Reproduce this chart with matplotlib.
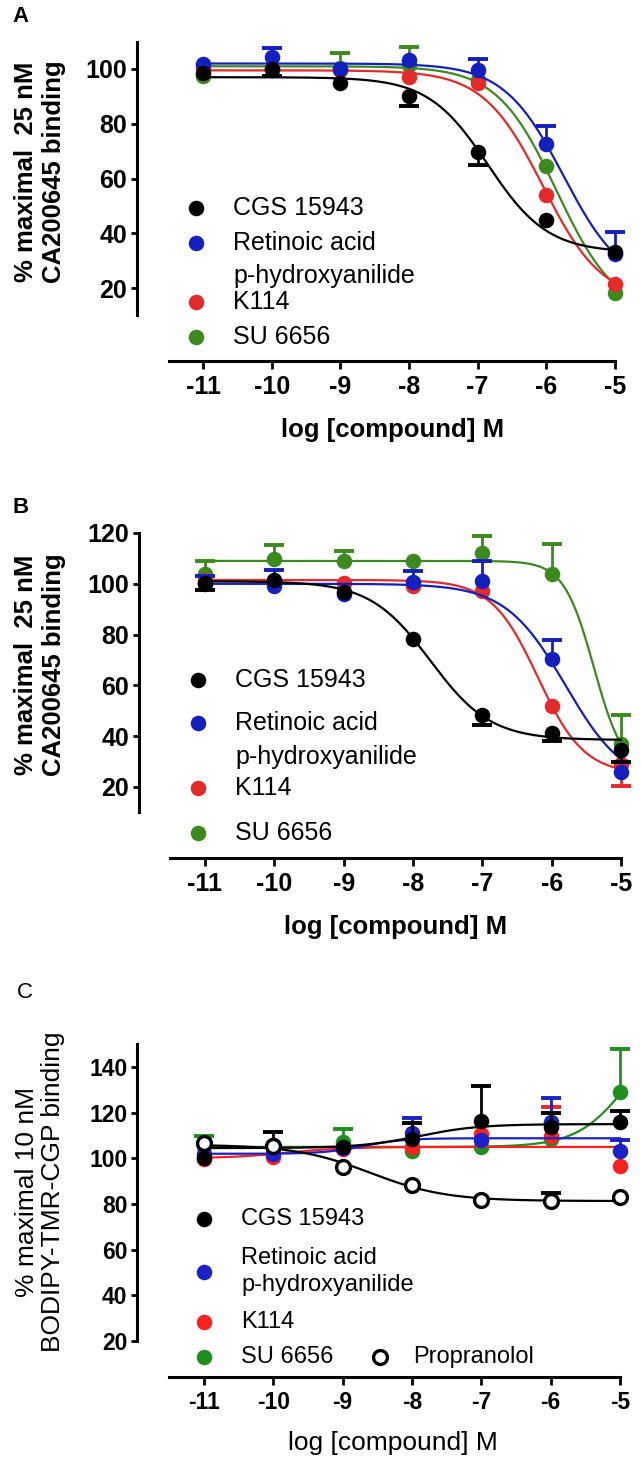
import numpy as np
import matplotlib
matplotlib.use('Agg')
import matplotlib.pyplot as plt
from matplotlib.lines import Line2D

plt.rcParams['font.family'] = ['Liberation Sans', 'DejaVu Sans']

W, H, DPI = 641, 1465, 100

# ---------------- data ----------------
log_conc = [-11, -10, -9, -8, -7, -6, -5]

# Panel A
a_cgs = [98.5, 100.0, 95.0, 90.3, 69.7, 44.8, 33.2]
a_cgs_up = [0, 0, 0, 0, 0, 0, 0]
a_cgs_dn = [0, 2.5, 0, 3.7, 4.7, 0, 0]
a_ret = [102.0, 104.2, 100.0, 103.3, 99.5, 72.6, 32.4]
a_ret_up = [0, 3.6, 0, 0, 4.3, 6.4, 8.1]
a_ret_dn = [0, 0, 0, 0, 0, 0, 0]
a_k114 = [100.5, 100.0, 99.5, 97.2, 94.8, 53.9, 21.5]
a_k114_up = [0, 0, 0, 0, 0, 0, 0]
a_k114_dn = [0, 0, 0, 0, 0, 0, 0]
a_su = [97.5, 99.5, 100.5, 101.5, 96.0, 64.5, 18.3]
a_su_up = [0, 0, 5.2, 6.5, 0, 0, 0]
a_su_dn = [0, 0, 0, 0, 0, 0, 0]
# fit parameters: [level at low conc, level at high conc, log midpoint, slope]
a_cgs_fit = [97.0, 33.0, -6.85, 1.0]
a_ret_fit = [102.0, 20.0, -5.75, 1.0]
a_k114_fit = [99.5, 15.0, -6.05, 1.0]
a_su_fit = [101.0, 10.0, -5.85, 1.0]

# Panel B
b_cgs = [100.5, 101.5, 96.6, 78.3, 48.4, 41.2, 34.6]
b_cgs_up = [0, 0, 0, 0, 0, 0, 0]
b_cgs_dn = [3.0, 0, 0, 0, 3.9, 3.2, 4.6]
b_ret = [100.0, 99.0, 96.0, 100.8, 101.0, 70.5, 26.0]
b_ret_up = [3.0, 6.5, 0, 4.3, 8.0, 7.5, 0]
b_ret_dn = [0, 0, 0, 0, 0, 0, 0]
b_k114 = [101.5, 101.0, 100.5, 99.0, 97.0, 51.9, 29.0]
b_k114_up = [0, 0, 0, 0, 0, 0, 0]
b_k114_dn = [0, 0, 0, 0, 0, 0, 8.5]
b_su = [104.0, 109.8, 109.0, 109.0, 112.0, 104.0, 37.0]
b_su_up = [5.0, 5.5, 4.0, 0, 7.0, 11.7, 11.4]
b_su_dn = [0, 0, 0, 0, 0, 0, 0]
b_cgs_fit = [101.0, 38.5, -7.75, 1.0]
b_ret_fit = [100.0, 20.0, -5.8, 1.0]
b_k114_fit = [101.5, 25.0, -6.2, 1.3]
b_su_fit = [109.0, 25.0, -5.39, 2.0]

# Panel C
c_cgs = [100.3, 106.0, 104.8, 108.6, 116.3, 113.7, 115.8]
c_cgs_up = [0, 5.4, 0, 6.7, 15.2, 6.3, 4.9]
c_cgs_dn = [0, 0, 0, 0, 0, 0, 0]
c_ret = [101.8, 101.8, 104.5, 111.3, 107.9, 115.8, 103.2]
c_ret_up = [0, 0, 0, 6.2, 0, 10.5, 4.8]
c_ret_dn = [0, 0, 0, 0, 0, 0, 0]
c_k114 = [99.6, 100.4, 104.0, 104.8, 110.5, 109.8, 96.5]
c_k114_up = [0, 0, 0, 0, 0, 12.5, 0]
c_k114_dn = [0, 0, 0, 0, 0, 0, 0]
c_su = [105.5, 105.0, 107.0, 103.2, 104.8, 108.3, 128.9]
c_su_up = [4.5, 0, 5.7, 0, 0, 0, 18.8]
c_su_dn = [0, 0, 0, 0, 0, 0, 0]
c_prop = [106.6, 105.4, 96.0, 88.2, 81.9, 81.3, 82.9]
c_prop_up = [0, 0, 0, 0, 0, 3.5, 0]
c_prop_dn = [0, 0, 0, 0, 0, 0, 0]
c_cgs_fit = [104.5, 115.0, -7.9, 1.0]
c_ret_fit = [102.0, 108.8, -8.7, 1.5]
c_k114_fit = [100.0, 105.0, -9.8, 1.0]
c_su_fit = [105.0, 160.0, -4.88, 1.18]
c_prop_fit = [106.0, 81.3, -8.6, 0.8]

x_ticks = [-11, -10, -9, -8, -7, -6, -5]

# ---------------- helpers ----------------
def fx(px):
    return px / W

def fy(py):
    return 1 - py / H

def curve(params, x):
    y_low, y_high, mid, slope = params
    return y_low + (y_high - y_low) / (1 + 10 ** (slope * (mid - x)))

fig = plt.figure(figsize=(W / DPI, H / DPI), dpi=DPI)

def make_axes(l, r, t, b):
    return fig.add_axes([fx(l), fy(b), fx(r) - fx(l), (b - t) / H])

def style_axes(ax, ylim, yticks, left_out, bottom_out, tick_size, tick_weight):
    ax.set_xlim(-11.5, -5)
    ax.set_ylim(*ylim)
    ax.set_xticks(x_ticks)
    ax.set_xticklabels([str(v) for v in x_ticks])
    ax.set_yticks(yticks)
    for s in ['top', 'right']:
        ax.spines[s].set_visible(False)
    ax.spines['left'].set_position(('outward', left_out * 72 / DPI))
    ax.spines['bottom'].set_position(('outward', bottom_out * 72 / DPI))
    for s in ['left', 'bottom']:
        ax.spines[s].set_linewidth(2.2)
    ax.tick_params(axis='y', direction='out', length=4.5, width=2.0, pad=2.5,
                   labelsize=tick_size)
    ax.tick_params(axis='x', direction='out', length=6, width=2.0, pad=4,
                   labelsize=tick_size)
    for lab in ax.get_xticklabels() + ax.get_yticklabels():
        lab.set_fontweight(tick_weight)
    ax.patch.set_visible(False)

def one_sided_err(ax, y, err, sign, color, z):
    x = np.array(log_conc, dtype=float)
    y = np.array(y, dtype=float)
    err = np.array(err, dtype=float)
    m = err > 0
    if not m.any():
        return
    ends = y[m] + sign * err[m]
    ax.vlines(x[m], y[m], ends, colors=color, linewidth=2.0, zorder=z,
              clip_on=False)
    ax.plot(x[m], ends, linestyle='none', marker='_', ms=14, mew=2.8,
            color=color, zorder=z, clip_on=False)

def draw_series(ax, y, up, dn, fit, color, z, open_marker=False, ms=11.2):
    xs = np.linspace(-11, -5, 300)
    ax.plot(xs, curve(fit, xs), color=color, lw=1.6, zorder=z, clip_on=False)
    one_sided_err(ax, y, up, 1, color, z + 0.1)
    one_sided_err(ax, y, dn, -1, color, z + 0.1)
    if open_marker:
        ax.plot(log_conc, y, 'o', ms=ms - 1.2, mfc='white', mec=color, mew=2.4,
                zorder=z + 0.2, clip_on=False, linestyle='none')
    else:
        ax.plot(log_conc, y, 'o', ms=ms, color=color, mew=0,
                zorder=z + 0.2, clip_on=False, linestyle='none')

def legend_marker(x, y, color, open_marker=False, ms=11.2):
    if open_marker:
        fig.add_artist(Line2D([fx(x)], [fy(y)], marker='o', ms=ms - 1.2, mfc='white',
                              mec=color, mew=2.4, linestyle='none'))
    else:
        fig.add_artist(Line2D([fx(x)], [fy(y)], marker='o', ms=ms, color=color,
                              mew=0, linestyle='none'))

def legend_text(x, y, s, size):
    fig.text(fx(x), fy(y), s, ha='left', va='center', fontsize=size)

# colours
A_COL = ['#000000', '#1420be', '#e42a2a', '#3c8a1e']
C_COL = ['#000000', '#1a22c8', '#ff2020', '#1f8f1f']

# ---------------- Panel A ----------------
axA = make_axes(168.7, 615, 41.6, 315.4)
style_axes(axA, (10, 110), [20, 40, 60, 80, 100], 31.7, 45.6, 18, 'bold')
draw_series(axA, a_su, a_su_up, a_su_dn, a_su_fit, A_COL[3], 3)
draw_series(axA, a_k114, a_k114_up, a_k114_dn, a_k114_fit, A_COL[2], 4)
draw_series(axA, a_ret, a_ret_up, a_ret_dn, a_ret_fit, A_COL[1], 5)
draw_series(axA, a_cgs, a_cgs_up, a_cgs_dn, a_cgs_fit, A_COL[0], 6)
axA.set_ylabel("% maximal  25 nM\nCA200645 binding", fontsize=18.5,
               fontweight='bold', linespacing=1.2)
axA.yaxis.set_label_coords(-0.288, 0.524)
axA.yaxis.label.set_va('center')
axA.set_xlabel("log [compound] M", fontsize=18.5, fontweight='bold')
axA.xaxis.set_label_coords(0.501, -0.419)
axA.xaxis.label.set_va('center')
fig.text(fx(12), fy(16), "A", fontsize=16, fontweight='bold', va='center', ha='left')

legend_marker(196, 208, A_COL[0]); legend_text(233, 208, "CGS 15943", 18)
legend_marker(196, 243, A_COL[1]); legend_text(233, 243, "Retinoic acid", 18)
legend_text(233, 276, "p-hydroxyanilide", 18)
legend_marker(196, 302, A_COL[2]); legend_text(233, 302, "K114", 18)
legend_marker(196, 337, A_COL[3]); legend_text(233, 337, "SU 6656", 18)

# ---------------- Panel B ----------------
axB = make_axes(170.3, 621, 533, 812.4)
style_axes(axB, (10, 120), [20, 40, 60, 80, 100, 120], 31.3, 45.6, 18, 'bold')
draw_series(axB, b_su, b_su_up, b_su_dn, b_su_fit, A_COL[3], 3)
draw_series(axB, b_k114, b_k114_up, b_k114_dn, b_k114_fit, A_COL[2], 4)
draw_series(axB, b_ret, b_ret_up, b_ret_dn, b_ret_fit, A_COL[1], 5)
draw_series(axB, b_cgs, b_cgs_up, b_cgs_dn, b_cgs_fit, A_COL[0], 6)
axB.set_ylabel("% maximal  25 nM\nCA200645 binding", fontsize=18.5,
               fontweight='bold', linespacing=1.2)
axB.yaxis.set_label_coords(-0.289, 0.528)
axB.yaxis.label.set_va('center')
axB.set_xlabel("log [compound] M", fontsize=18.5, fontweight='bold')
axB.xaxis.set_label_coords(0.5, -0.41)
axB.xaxis.label.set_va('center')
fig.text(fx(12), fy(508), "B", fontsize=16, fontweight='bold', va='center', ha='left')

legend_marker(198, 680, A_COL[0]); legend_text(235, 680, "CGS 15943", 18)
legend_marker(198, 723, A_COL[1]); legend_text(235, 723, "Retinoic acid", 18)
legend_text(235, 757, "p-hydroxyanilide", 18)
legend_marker(198, 788, A_COL[2]); legend_text(235, 788, "K114", 18)
legend_marker(198, 833, A_COL[3]); legend_text(235, 833, "SU 6656", 18)

# ---------------- Panel C ----------------
axC = make_axes(169.3, 620, 1044.2, 1341)
style_axes(axC, (20, 150), [20, 40, 60, 80, 100, 120, 140], 32.3, 36, 16.5, 'bold')
draw_series(axC, c_su, c_su_up, c_su_dn, c_su_fit, C_COL[3], 3)
draw_series(axC, c_k114, c_k114_up, c_k114_dn, c_k114_fit, C_COL[2], 4)
draw_series(axC, c_ret, c_ret_up, c_ret_dn, c_ret_fit, C_COL[1], 5)
draw_series(axC, c_cgs, c_cgs_up, c_cgs_dn, c_cgs_fit, C_COL[0], 6)
draw_series(axC, c_prop, c_prop_up, c_prop_dn, c_prop_fit, '#000000', 7, open_marker=True)
axC.set_ylabel("% maximal 10 nM\nBODIPY-TMR-CGP binding", fontsize=19,
               linespacing=1.15)
axC.yaxis.set_label_coords(-0.287, 0.502)
axC.yaxis.label.set_va('center')
axC.set_xlabel("log [compound] M", fontsize=19)
axC.xaxis.set_label_coords(0.497, -0.344)
axC.xaxis.label.set_va('center')
fig.text(fx(17), fy(993), "C", fontsize=16, va='center', ha='left')

legend_marker(204, 1219, C_COL[0]); legend_text(241, 1219, "CGS 15943", 17)
legend_marker(204, 1272, C_COL[1]); legend_text(241, 1258, "Retinoic acid", 17)
legend_text(241, 1285, "p-hydroxyanilide", 17)
legend_marker(204, 1322, C_COL[2]); legend_text(241, 1322, "K114", 17)
legend_marker(204, 1357, C_COL[3]); legend_text(241, 1357, "SU 6656", 17)
legend_marker(380, 1357, '#000000', open_marker=True); legend_text(413, 1357, "Propranolol", 17)

fig.savefig("out.png", dpi=DPI)
